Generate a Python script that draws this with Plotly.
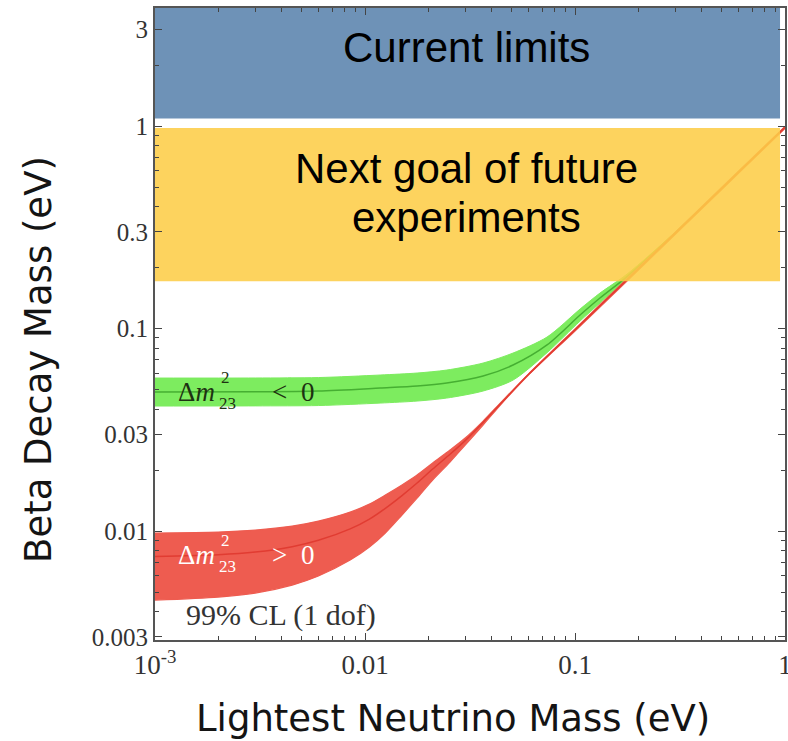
import plotly.graph_objects as go

# ---- data (eV) ----
# Normal ordering (dm^2_23 > 0): lightest mass and 99% CL band
m_normal = [0.001, 0.002, 0.003, 0.0045, 0.006, 0.0085, 0.0105, 0.0125, 0.015, 0.0177,
            0.021, 0.0254, 0.03, 0.0365, 0.045, 0.06, 0.1, 0.2, 0.5, 1.0]
normal_low = [0.00456, 0.00472, 0.00494, 0.00541, 0.00600, 0.00719, 0.00834, 0.00978, 0.0120, 0.01455,
              0.01786, 0.02191, 0.02659, 0.03338, 0.04286, 0.05895, 0.0973, 0.1941, 0.4853, 0.973]
normal_mid = [0.00748, 0.00763, 0.00787, 0.00837, 0.00900, 0.01025, 0.01146, 0.01295, 0.01497, 0.01726,
              0.02024, 0.02395, 0.02797, 0.03439, 0.04335, 0.05927, 0.0985, 0.1970, 0.4925, 0.985]
normal_high = [0.00978, 0.00989, 0.01011, 0.01058, 0.01120, 0.01241, 0.01359, 0.01506, 0.01688, 0.01890,
               0.02167, 0.02512, 0.02879, 0.03493, 0.04385, 0.05961, 0.0997, 0.1994, 0.4985, 0.997]

# Inverted ordering (dm^2_23 < 0)
m_inverted = [0.001, 0.003, 0.006, 0.0118, 0.0177, 0.0245, 0.0365, 0.0507, 0.0736, 0.1057,
              0.1315, 0.177, 0.3, 0.6, 1.0]
inverted_low = [0.04144, 0.0415, 0.04167, 0.04286, 0.04385, 0.04537, 0.04915, 0.05567, 0.0760, 0.1089,
                0.1336, 0.1755, 0.2955, 0.5905, 0.984]
inverted_mid = [0.04859, 0.0487, 0.04915, 0.05084, 0.05200, 0.05381, 0.05827, 0.06604, 0.0830, 0.1166,
                0.1415, 0.1806, 0.2975, 0.5925, 0.987]
inverted_high = [0.05697, 0.0570, 0.05729, 0.05895, 0.06030, 0.06238, 0.06755, 0.07568, 0.09078, 0.1248,
                 0.1497, 0.1858, 0.2995, 0.5945, 0.990]

# Sensitivity regions
region_x = [0.00099, 0.947]
current_limit = [1.09, 5.0]
next_goal = [0.171, 0.977]

y_ticks = [0.003, 0.01, 0.03, 0.1, 0.3, 1, 3]
y_ticktext = ["0.003", "0.01", "0.03", "0.1", "0.3", "1", "3"]
x_ticks = [0.001, 0.01, 0.1, 1]
x_ticktext = ["10<sup>-3</sup>", "0.01", "0.1", "1"]

W, H = 788, 741
L, R, T, B = 155, 3, 8, 101
PW, PH = W - L - R, H - T - B


def px(x):
    return (x - L) / PW


def py(y):
    return 1 - (y - T) / PH


def rect(xs, ys):
    return [xs[0], xs[1], xs[1], xs[0], xs[0]], [ys[0], ys[0], ys[1], ys[1], ys[0]]


fig = go.Figure()

# current limits (blue)
bx, by = rect(region_x, current_limit)
fig.add_trace(go.Scatter(x=bx, y=by, mode="lines", fill="toself",
                         fillcolor="#6E92B7", line=dict(width=0), hoverinfo="skip"))


def band(m, lo, mid, hi, fillc, midc, edge_w):
    fig.add_trace(go.Scatter(x=m, y=lo, mode="lines",
                             line=dict(width=edge_w, color=fillc, shape="spline", smoothing=0.8),
                             hoverinfo="skip"))
    fig.add_trace(go.Scatter(x=m, y=hi, mode="lines", fill="tonexty", fillcolor=fillc,
                             line=dict(width=edge_w, color=fillc, shape="spline", smoothing=0.8),
                             hoverinfo="skip"))
    fig.add_trace(go.Scatter(x=m, y=mid, mode="lines",
                             line=dict(width=1.5, color=midc, shape="spline", smoothing=0.8),
                             hoverinfo="skip"))


band(m_inverted, inverted_low, inverted_mid, inverted_high, "rgb(125,236,95)", "rgb(70,175,50)", 1)
band(m_normal, normal_low, normal_mid, normal_high, "rgb(238,92,80)", "rgb(225,60,50)", 1.2)

# next goal (yellow, slightly translucent over the curves)
gx, gy = rect(region_x, next_goal)
fig.add_trace(go.Scatter(x=gx, y=gy, mode="lines", fill="toself",
                         fillcolor="rgba(253,205,72,0.88)", line=dict(width=0), hoverinfo="skip"))

serif = "Liberation Serif"

fig.update_xaxes(type="log", range=[-3, 0], tickmode="array", tickvals=x_ticks, ticktext=x_ticktext,
                 tickfont=dict(family=serif, size=27, color="#333333"), automargin=False,
                 ticks="inside", ticklen=7, tickwidth=1.2, tickcolor="#444",
                 showline=True, linecolor="#555", linewidth=2, mirror="ticks", showgrid=False,
                 zeroline=False, ticklabelstandoff=0, ticklabeloverflow="allow",
                 minor=dict(ticks="inside", ticklen=4, tickcolor="#444",
                            tickvals=[k * 10 ** e for e in (-3, -2, -1) for k in range(2, 10)]))
fig.update_yaxes(type="log", range=[-2.538, 0.583], tickmode="array", tickvals=y_ticks, ticktext=y_ticktext,
                 tickfont=dict(family=serif, size=25, color="#333333"), automargin=False,
                 ticks="inside", ticklen=7, tickwidth=1.2, tickcolor="#444",
                 showline=True, linecolor="#555", linewidth=2, mirror="ticks", showgrid=False,
                 zeroline=False, ticklabelstandoff=0, ticklabeloverflow="allow",
                 minor=dict(ticks="inside", ticklen=4, tickcolor="#444",
                            tickvals=[k * 10 ** e for e in (-3, -2, -1, 0) for k in range(2, 10)
                                      if k != 3 and k * 10 ** e < 3.9]))

ann = []


def text(x, y, s, size, color="black", family="Liberation Sans", **kw):
    ann.append(dict(x=px(x), y=py(y), xref="paper", yref="paper", text=s, showarrow=False,
                    font=dict(family=family, size=size, color=color), xanchor=kw.get("xanchor", "center"),
                    yanchor="middle", textangle=kw.get("angle", 0)))


text(466, 47, "Current limits", 42)
text(466, 168, "Next goal of future", 42)
text(466, 217, "experiments", 42)

# band labels
for (y0, col, sign) in ((392, "#1d3212", "&lt;"), (555, "white", "&gt;")):
    text(176, y0, "Δ<i>m</i>", 27, col, serif, xanchor="left")
    text(219, y0 - 15, "2", 17, col, serif, xanchor="left")
    text(217, y0 + 11, "23", 17, col, serif, xanchor="left")
    text(270, y0, sign, 27, col, serif, xanchor="left")
    text(299, y0, "0", 27, col, serif, xanchor="left")

text(184, 615, "99% CL (1 dof)", 30, "#333333", serif, xanchor="left")

# axis titles
text(453, 718, "Lightest Neutrino Mass (eV)", 37, "#141414", "DejaVu Sans")
text(38, 360, "Beta Decay Mass (eV)", 37, "#141414", "DejaVu Sans", angle=-90)

fig.update_layout(width=W, height=H, margin=dict(l=L, r=R, t=T, b=B, autoexpand=False),
                  paper_bgcolor="white", plot_bgcolor="white", showlegend=False,
                  annotations=ann)

fig.write_html("out.html")
